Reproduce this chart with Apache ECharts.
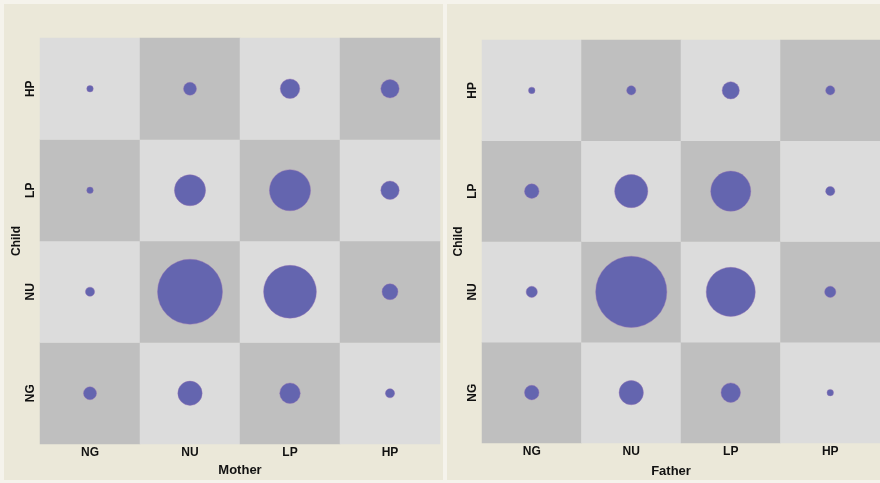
<!DOCTYPE html>
<html>
<head>
<meta charset="utf-8">
<script src="https://cdn.jsdelivr.net/npm/echarts@6/dist/echarts.min.js"></script>
<style>
  html, body { margin: 0; padding: 0; background: #f5f3ec; }
  #chart { width: 880px; height: 483px; }
</style>
</head>
<body>
<div id="chart"></div>
<script>
// Categories shared by both panels (x = parent, y = child, bottom to top)
const categories = ['NG', 'NU', 'LP', 'HP'];

// Counts per cell: rows are the child category (NG, NU, LP, HP),
// columns are the parent category (NG, NU, LP, HP)
const motherCounts = [
  [4, 14, 10, 2],   // child NG
  [2, 100, 66, 6],  // child NU
  [1, 23, 40, 8],   // child LP
  [1, 4, 9, 8]      // child HP
];
const fatherCounts = [
  [5, 14, 9, 1],    // child NG
  [3, 120, 57, 3],  // child NU
  [5, 26, 38, 2],   // child LP
  [1, 2, 7, 2]      // child HP
];

const panelNames = ['Mother', 'Father'];

const LIGHT = '#dcdcdc';
const DARK = '#bfbfbf';
const BUBBLE = '#6465af';

function toPoints(matrix) {
  const pts = [];
  matrix.forEach((row, j) => row.forEach((v, i) => pts.push([i, j, v])));
  return pts;
}
function checker() {
  const cells = [];
  for (let j = 0; j < categories.length; j++)
    for (let i = 0; i < categories.length; i++)
      cells.push([i, j, (i + j) % 2 === 0 ? 1 : 0]);
  return cells;
}

const labelFont = { fontFamily: 'Liberation Sans', fontWeight: 'bold', color: '#111' };

const grids = [
  { left: 40, top: 38, width: 400, height: 406 },
  { left: 482, top: 40, width: 400, height: 404 }
];

const xAxes = grids.map((g, k) => ({
  type: 'category', gridIndex: k, data: categories,
  axisLine: { show: false }, axisTick: { show: false },
  axisLabel: Object.assign({ fontSize: 12, margin: 3 }, labelFont),
  name: panelNames[k], nameLocation: 'middle', nameGap: k === 0 ? 16 : 22,
  nameTextStyle: Object.assign({ fontSize: 13, padding: k === 0 ? 0 : [0, 20, 0, 0] }, labelFont),
  splitLine: { show: false }
}));
const yAxes = grids.map((g, k) => ({
  type: 'category', gridIndex: k, data: categories,
  axisLine: { show: false }, axisTick: { show: false },
  axisLabel: Object.assign({ fontSize: 12, rotate: 90, margin: 3 }, labelFont),
  name: 'Child', nameLocation: 'middle', nameGap: 17,
  nameTextStyle: Object.assign({ fontSize: 12 }, labelFont),
  splitLine: { show: false }
}));

const series = [];
[motherCounts, fatherCounts].forEach((m, k) => {
  series.push({
    type: 'heatmap', xAxisIndex: k, yAxisIndex: k, data: checker(),
    silent: true, itemStyle: { borderWidth: 0 }
  });
  series.push({
    type: 'scatter', xAxisIndex: k, yAxisIndex: k, data: toPoints(m),
    symbolSize: d => 6.5 * Math.sqrt(d[2]),
    itemStyle: { color: BUBBLE, opacity: 1, borderColor: 'rgba(150,110,180,0.7)', borderWidth: 0.6 },
    silent: true, z: 5
  });
});

const chart = echarts.init(document.getElementById('chart'), null, { renderer: 'canvas' });
chart.setOption({
  animation: false,
  backgroundColor: '#f5f3ec',
  graphic: [
    { type: 'rect', shape: { x: 4, y: 4, width: 439, height: 476 }, style: { fill: '#ebe8d9' }, z: -10 },
    { type: 'rect', shape: { x: 447, y: 4, width: 433, height: 476 }, style: { fill: '#ebe8d9' }, z: -10 }
  ],
  grid: grids,
  xAxis: xAxes,
  yAxis: yAxes,
  visualMap: {
    type: 'piecewise', show: false, seriesIndex: [0, 2], dimension: 2,
    pieces: [{ value: 0, color: LIGHT }, { value: 1, color: DARK }]
  },
  series: series
});
</script>
</body>
</html>
